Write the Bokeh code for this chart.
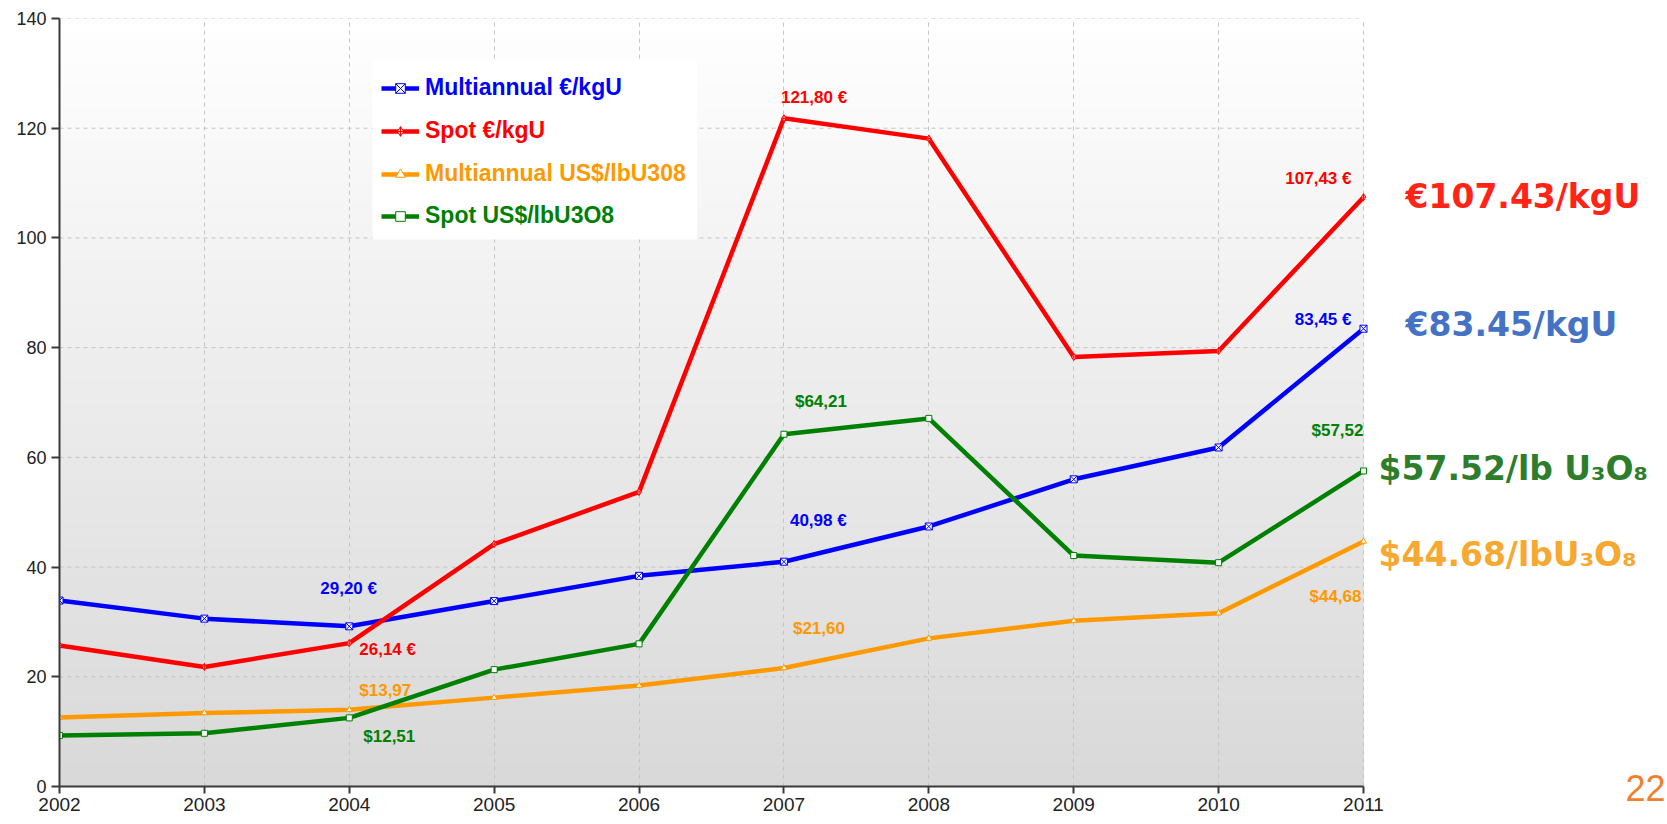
from bokeh.plotting import figure
from bokeh.models import (Range1d, FixedTicker, ColumnDataSource, LabelSet, Label,
                          Legend, LegendItem, BoxAnnotation, LinearAxis, CustomJSTickFormatter)
from bokeh.core.properties import value
from bokeh.embed import file_html
from bokeh.resources import INLINE
import numpy as np

# ---------------- data ----------------
years = [2002, 2003, 2004, 2005, 2006, 2007, 2008, 2009, 2010, 2011]
multi_eur = [33.9, 30.6, 29.20, 33.8, 38.4, 40.98, 47.4, 56.0, 61.8, 83.45]
spot_eur = [25.7, 21.8, 26.14, 44.2, 53.7, 121.80, 118.1, 78.3, 79.4, 107.43]
multi_usd = [12.6, 13.4, 13.97, 16.2, 18.4, 21.60, 27.0, 30.2, 31.6, 44.68]
spot_usd = [9.3, 9.7, 12.51, 21.3, 26.0, 64.21, 67.1, 42.1, 40.8, 57.52]

series_names = ["Multiannual €/kgU", "Spot €/kgU", "Multiannual US$/lbU308", "Spot US$/lbU3O8"]
y_ticks = [0, 20, 40, 60, 80, 100, 120, 140]
page_number = "22"

BLUE, RED, ORANGE, GREEN = "#0000ff", "#ff0000", "#ff9900", "#008000"

W, H = 1667, 824
FL, FR, FT, FB = 59, 1363, 18, 786            # frame edges for the 2002..2011 / 0..140 area
ppy = (FR - FL) / 9.0
x_end = 2011 + (W - FR) / ppy                 # frame extends to the right edge for side labels

p = figure(width=W, height=H, output_backend="svg", toolbar_location=None,
           x_range=Range1d(2002, x_end), y_range=Range1d(0, 140),
           min_border_left=FL, min_border_right=0, min_border_top=FT, min_border_bottom=H - FB)
p.outline_line_color = None
p.background_fill_color = "white"
p.border_fill_color = "white"

# gradient background of the plot area (decoration)
edges = np.linspace(0, 140, 71)
shades = np.linspace(217, 255, 70).astype(int)
grad = ColumnDataSource(dict(bottom=edges[:-1], top=edges[1:],
                             color=["#%02x%02x%02x" % (s, s, s) for s in shades]))
qr = p.quad(left=2002, right=2011, bottom="bottom", top="top", fill_color="color",
            line_color="color", source=grad)
qr.level = "image"

# grids
p.xgrid.grid_line_color = "#c4c4c4"
p.xgrid.grid_line_dash = "4 4"
p.xgrid.grid_line_width = 1
p.ygrid.visible = False
hg = p.segment(x0=2002, x1=2011, y0=y_ticks[1:], y1=y_ticks[1:], line_color="#c4c4c4",
               line_dash="4 4", line_width=1)
hg.level = "underlay"

p.xaxis.ticker = FixedTicker(ticks=years)
p.yaxis.ticker = FixedTicker(ticks=y_ticks)
p.xaxis.bounds = (2002, 2011)
for ax in (p.xaxis, p.yaxis):
    ax.axis_line_color = "#3a3a3a"
    ax.axis_line_width = 2
    ax.major_tick_line_color = "#3a3a3a"
    ax.major_tick_line_width = 2
    ax.major_tick_in = 0
    ax.minor_tick_line_color = None
    ax.major_label_text_font = "Liberation Sans"
    ax.major_label_text_color = "#222222"
p.xaxis.major_label_text_font_size = "19px"
p.yaxis.major_label_text_font_size = "18px"
p.yaxis.major_tick_out = 8
p.xaxis.major_tick_out = 7
p.xaxis.major_label_standoff = 4
p.yaxis.major_label_standoff = 5

# page number at the bottom right (secondary, invisible axis)
pn_axis = LinearAxis(ticker=FixedTicker(ticks=[2012.946]),
                     formatter=CustomJSTickFormatter(code="return '%s';" % page_number),
                     axis_line_color=None, major_tick_line_color=None, minor_tick_line_color=None,
                     major_tick_out=0, major_tick_in=0, major_label_standoff=-39,
                     major_label_text_font="Liberation Sans", major_label_text_font_size="36px",
                     major_label_text_color="#f08030")
p.add_layout(pn_axis, "below")

src = ColumnDataSource(dict(x=years, me=multi_eur, se=spot_eur, mu=multi_usd, su=spot_usd))

LW = 4.5
l1 = p.line("x", "me", source=src, line_color=BLUE, line_width=LW)
m1 = p.scatter("x", "me", source=src, marker="square_x", size=7, fill_color="white", line_color=BLUE, line_width=1)
l2 = p.line("x", "se", source=src, line_color=RED, line_width=LW)
m2 = p.scatter("x", "se", source=src, marker="diamond_cross", size=7, fill_color="white", line_color=RED, line_width=1)
l3 = p.line("x", "mu", source=src, line_color=ORANGE, line_width=LW)
m3 = p.scatter("x", "mu", source=src, marker="triangle", size=6, fill_color="white", line_color=ORANGE, line_width=1)
l4 = p.line("x", "su", source=src, line_color=GREEN, line_width=LW)
m4 = p.scatter("x", "su", source=src, marker="square", size=6, fill_color="white", line_color=GREEN, line_width=1)

# legend background box
p.add_layout(BoxAnnotation(left=2004.16, right=2006.40, bottom=99.7, top=132.2,
                           fill_color="white", fill_alpha=1, line_color=None, level="underlay"))

legend_y = [685, 642, 599, 557]
for name, col, rends, ly in zip(series_names, [BLUE, RED, ORANGE, GREEN],
                                [[l1, m1], [l2, m2], [l3, m3], [l4, m4]], legend_y):
    lg = Legend(items=[LegendItem(label=name, renderers=rends)], location=(322, ly),
                background_fill_alpha=0, border_line_alpha=0, padding=0, margin=0,
                glyph_width=38, glyph_height=24, label_standoff=6,
                label_text_font="Liberation Sans", label_text_font_style="bold",
                label_text_font_size="23px", label_text_color=col)
    p.add_layout(lg)

# data labels
def eur(v):
    return ("%.2f" % v).replace(".", ",") + " €"

def usd(v):
    return "$" + ("%.2f" % v).replace(".", ",")

i04, i07, i11 = years.index(2004), years.index(2007), years.index(2011)
left_lab = ColumnDataSource(dict(
    x=[2004, 2004, 2004, 2004, 2007, 2007, 2007, 2007],
    y=[multi_eur[i04], spot_eur[i04], multi_usd[i04], spot_usd[i04],
       spot_eur[i07], multi_eur[i07], spot_usd[i07], multi_usd[i07]],
    text=[eur(multi_eur[i04]), eur(spot_eur[i04]), usd(multi_usd[i04]), usd(spot_usd[i04]),
          eur(spot_eur[i07]), eur(multi_eur[i07]), usd(spot_usd[i07]), usd(multi_usd[i07])],
    color=[BLUE, RED, ORANGE, GREEN, RED, BLUE, GREEN, ORANGE],
    dx=[-29, 10, 10, 14, -3, 6, 11, 9],
    dy=[38, -6, 19, -19, 21, 41, 33, 40],
))
right_lab = ColumnDataSource(dict(
    x=[2011] * 4,
    y=[spot_eur[i11], multi_eur[i11], spot_usd[i11], multi_usd[i11]],
    text=[eur(spot_eur[i11]), eur(multi_eur[i11]), usd(spot_usd[i11]), usd(multi_usd[i11])],
    color=[RED, BLUE, GREEN, ORANGE],
    dx=[-12, -12, 0, -2],
    dy=[19, 9, 40, -55],
))
for srcl, align in ((left_lab, "left"), (right_lab, "right")):
    p.add_layout(LabelSet(x="x", y="y", text="text", source=srcl, x_offset="dx", y_offset="dy",
                          text_color="color", text_font=value("Liberation Sans"),
                          text_font_style="bold", text_font_size="17px",
                          text_align=align, text_baseline="middle"))

# big right-side labels
big = [
    ("€%.2f/kgU" % spot_eur[i11], spot_eur[i11], 42, 1, "#ff2416"),
    ("€%.2f/kgU" % multi_eur[i11], multi_eur[i11], 42, 4, "#4472c4"),
    ("$%.2f/lb U₃O₈" % spot_usd[i11], spot_usd[i11], 15, 2, "#2e7d2a"),
    ("$%.2f/lbU₃O₈" % multi_usd[i11], multi_usd[i11], 15, -13, "#f6a830"),
]
for txt, yv, dx, dy, col in big:
    p.add_layout(Label(x=2011, y=yv, x_offset=dx, y_offset=dy, text=txt, text_color=col,
                       text_font="DejaVu Sans", text_font_style="bold", text_font_size="33px",
                       text_align="left", text_baseline="alphabetic"))

open("out.html", "w").write(file_html(p, INLINE))
